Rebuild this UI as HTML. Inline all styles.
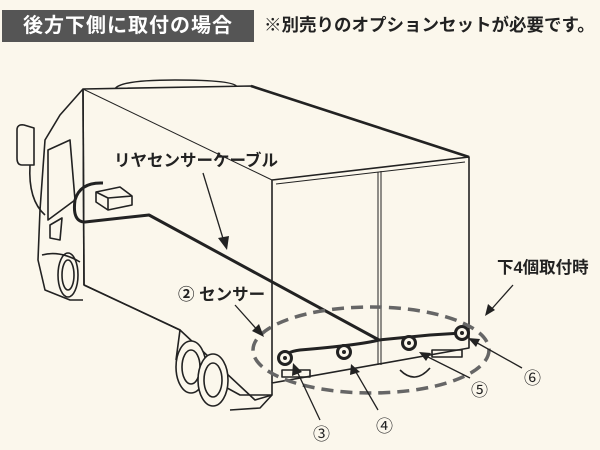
<!DOCTYPE html>
<html><head><meta charset="utf-8"><style>
html,body{margin:0;padding:0;background:#fbf7ec;}
body{width:600px;height:450px;position:relative;overflow:hidden;font-family:"Liberation Sans","Noto Sans CJK JP",sans-serif;}
.hd{position:absolute;left:2px;top:10px;width:252px;height:32px;background:#555;color:#fff;font-weight:bold;font-size:20px;line-height:32px;text-align:center;letter-spacing:1px;}
.note{position:absolute;left:264px;top:12px;font-size:17.5px;color:#222;font-weight:bold;}
svg{position:absolute;left:0;top:0;}
</style></head><body>
<div class="hd">後方下側に取付の場合</div>
<div class="note">※別売りのオプションセットが必要です。</div>
<svg width="600" height="450" viewBox="0 0 600 450" font-family="Liberation Sans, Noto Sans CJK JP, sans-serif">
<g fill="none" stroke="#222" stroke-width="1.6" stroke-linejoin="round">
<path d="M115,89 Q120,80 175,80 Q235,80 237,87" fill="#fbf7ec"/>
<path d="M83,89 L60,115 L45,140 L40,210 L38,260 L45,290 L70,300 L83,300" fill="#fbf7ec"/>
<path d="M48,150 L70,140 L75,200 L48,220 Z"/>
<path d="M50,225 L62,218 L60,240 L50,238 Z"/>
<path d="M42,255 Q60,250 80,262"/>
<path d="M17,130 Q17,124 24,125 L34,128 L34,165 L22,165 Q17,165 17,158 Z" fill="#fbf7ec"/>
<path d="M30,165 Q28,200 45,215"/>
<ellipse cx="68" cy="275" rx="10" ry="22"/>
<ellipse cx="68" cy="275" rx="6" ry="15"/>
<path d="M83,89 L251,86 L469,157 L469,348 L272,383 L272,395 L255,400 L180,330 L84,285 Z" fill="#fbf7ec"/>
<path d="M251,86 L469,157" stroke-width="2.6"/>
<path d="M83,89 L84,285"/>
<path d="M83,89 L272,180" stroke-width="1"/>
<path d="M272,180 L469,157 M272,180 L272,383"/>
<path d="M276,184 L465,162" stroke-width="1"/>
<path d="M378,172 L378,365 M381,171 L381,365" stroke-width="1"/>
<path d="M84,285 L180,330 L176,360"/>
<path d="M176,360 L240,395 L272,395"/>
<path d="M230,410 L260,408 L272,395"/>
<ellipse cx="191" cy="367" rx="15" ry="26" fill="#fbf7ec"/>
<ellipse cx="191" cy="367" rx="9" ry="17"/>
<ellipse cx="213" cy="380" rx="15" ry="26" fill="#fbf7ec"/>
<ellipse cx="213" cy="380" rx="9" ry="17"/>
<path d="M400,370 Q415,385 430,368"/>
<rect x="282" y="370" width="28" height="7"/>
<rect x="432" y="350" width="30" height="7"/>
<path d="M103,183 Q80,182 75,200 Q72,222 85,222 L149,215 L379,340 Q360,345 300,350 Q285,352 285,358" stroke-width="3"/>
<path d="M379,340 L430,335 L462,333" stroke-width="3"/>
<path d="M96,192 L120,187 L132,196 L132,205 L108,210 L96,202 Z" fill="#fbf7ec"/>
<path d="M96,192 L108,198 L132,196 M108,198 L108,210"/>
<g fill="#fbf7ec" stroke-width="3">
<circle cx="285" cy="358" r="6.5"/><circle cx="344" cy="352" r="6.5"/><circle cx="409" cy="343" r="6.5"/><circle cx="462" cy="333" r="6.5"/>
</g>
<g fill="#222" stroke="none">
<circle cx="285" cy="358" r="2"/><circle cx="344" cy="352" r="2"/><circle cx="409" cy="343" r="2"/><circle cx="462" cy="333" r="2"/>
</g>
<ellipse cx="371" cy="350" rx="118" ry="43" stroke="#666" stroke-width="3.5" stroke-dasharray="12,7"/>
<g stroke-width="1.3">
<path d="M203,173 L225,245"/><path d="M235,305 L260,333"/><path d="M513,285 L489,312"/>
<path d="M320,420 L295,367"/><path d="M378,410 L353,367"/><path d="M470,378 L422,354"/><path d="M522,368 L472,340"/>
</g>
</g>
<g fill="#222">
<polygon points="227,250 218,238 229,236"/>
<polygon points="264,337 252,331 259,324"/>
<polygon points="485,316 488,304 495,310"/>
<polygon points="293,363 302,372 292,376"/>
<polygon points="351,364 360,372 350,375"/>
<polygon points="419,352 431,353 426,361"/>
<polygon points="468,338 480,339 476,347"/>
</g>
<g fill="#222" font-size="16.5" font-weight="bold">
<text x="114" y="166">リヤセンサーケーブル</text>
<text x="178" y="300">② センサー</text>
<text x="497" y="273">下4個取付時</text>
</g>
<g fill="#222" font-size="17">
<text x="313" y="440">③</text>
<text x="376" y="432">④</text>
<text x="471" y="396">⑤</text>
<text x="524" y="384">⑥</text>
</g>
</svg>
</body></html>
